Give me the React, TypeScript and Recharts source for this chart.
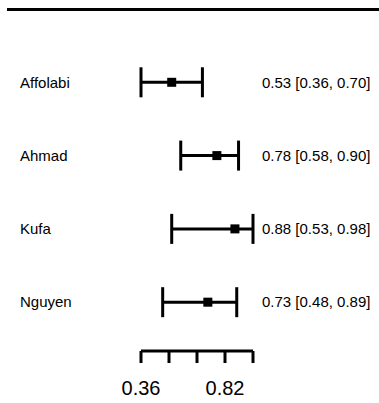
import React from "react"
import {
  ScatterChart,
  Scatter,
  XAxis,
  YAxis,
  ErrorBar,
} from "recharts"

const studies = ["Affolabi", "Ahmad", "Kufa", "Nguyen"]
const estimates = [0.53, 0.78, 0.88, 0.73]
const lower = [0.36, 0.58, 0.53, 0.48]
const upper = [0.7, 0.9, 0.98, 0.89]
const xTicks = [0.36, 0.515, 0.67, 0.825, 0.98]
const xTickLabels = ["0.36", "", "", "0.82", ""]

const FONT = "'Liberation Sans', Arial, sans-serif"

const data = studies.map((name, i) => ({
  name,
  row: i + 1,
  est: estimates[i],
  err: [estimates[i] - lower[i], upper[i] - estimates[i]],
  ci: `${estimates[i].toFixed(2)} [${lower[i].toFixed(2)}, ${upper[i].toFixed(2)}]`,
}))

function StudyTick(props: any) {
  const { y, payload } = props
  const d = data.find((r) => r.row === payload.value)
  return (
    <text x={20} y={y} dy="0.35em" textAnchor="start" fontSize={15} fontFamily={FONT} fill="#000">
      {d ? d.name : ""}
    </text>
  )
}

function CiTick(props: any) {
  const { y, payload } = props
  const d = data.find((r) => r.row === payload.value)
  return (
    <text x={262} y={y} dy="0.35em" textAnchor="start" fontSize={15} fontFamily={FONT} fill="#000">
      {d ? d.ci : ""}
    </text>
  )
}

function SquareDot(props: any) {
  const { cx, cy } = props
  return <rect x={cx - 4.5} y={cy - 4.5} width={9} height={9} fill="#000" />
}

export default function App() {
  return (
    <div style={{ position: "absolute", left: 0, top: 0, width: 379, height: 403, background: "#fff" }}>
      <div style={{ position: "absolute", left: 7, top: 8, width: 373, height: 3, background: "#000" }} />
      <ScatterChart width={379} height={403} margin={{ top: 9, right: 0, bottom: 0, left: 0 }}>
        <XAxis
          type="number"
          dataKey="est"
          domain={[0.36, 0.98]}
          ticks={xTicks}
          tickFormatter={(v: number) => xTickLabels[xTicks.indexOf(v)] ?? ""}
          height={52}
          axisLine={{ stroke: "#000", strokeWidth: 3 }}
          tickLine={{ stroke: "#000", strokeWidth: 3 }}
          tickSize={12}
          tickMargin={18}
          tick={{ fill: "#000", fontSize: 20, fontFamily: FONT }}
          allowDataOverflow
          interval={0}
        />
        <YAxis
          yAxisId="left"
          type="number"
          dataKey="row"
          domain={[0, 4.666]}
          reversed
          ticks={[1, 2, 3, 4]}
          width={141}
          axisLine={false}
          tickLine={false}
          tick={<StudyTick />}
          interval={0}
        />
        <YAxis
          yAxisId="right"
          orientation="right"
          type="number"
          dataKey="row"
          domain={[0, 4.666]}
          reversed
          ticks={[1, 2, 3, 4]}
          width={126}
          axisLine={false}
          tickLine={false}
          tick={<CiTick />}
          interval={0}
        />
        <Scatter yAxisId="left" data={data} shape={<SquareDot />} isAnimationActive={false}>
          <ErrorBar dataKey="err" direction="x" width={15} stroke="#000" strokeWidth={3} />
        </Scatter>
        <Scatter yAxisId="right" data={data} shape={() => null} isAnimationActive={false} />
      </ScatterChart>
    </div>
  )
}
